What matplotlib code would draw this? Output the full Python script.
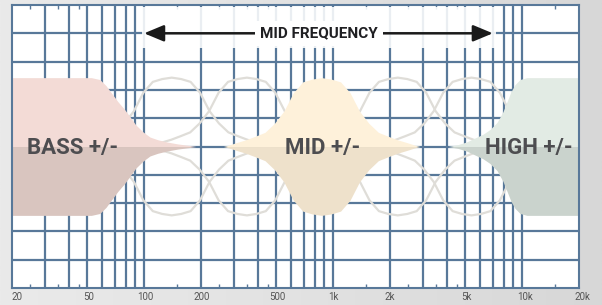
import numpy as np
import matplotlib.pyplot as plt
import matplotlib.ticker as mticker
from matplotlib.colors import LinearSegmentedColormap
from matplotlib.patches import Rectangle, FancyArrowPatch
from matplotlib.transforms import ScaledTranslation

# ---------------------------------------------------------------------------
# Data (frequency in Hz, gain in dB)
# ---------------------------------------------------------------------------
TICK_FREQS = [20, 50, 100, 200, 500, 1000, 2000, 5000, 10000, 20000]
TICK_LABELS = ["20", "50", "100", "200", "500", "1k", "2k", "5k", "10k", "20k"]
GRID_FREQS = [30, 40, 50, 60, 70, 80, 90,
              100, 200, 300, 400, 500, 600, 700, 800, 900,
              1000, 2000, 3000, 4000, 5000, 6000, 7000, 8000, 9000, 10000]
MINOR_TICKS = [25, 35, 45, 150, 250, 350, 450, 1500, 2500, 3500, 4500, 15000]
GRID_GAINS = [-12, -9, -6, -3, 0, 3, 6, 9, 12]

# low shelf outline (upper half, mirrored below)
BASS_FREQ = [20, 52.6, 58.3, 62.9, 67.6, 72.7, 78.7, 84.2, 90.3, 98.7,
             107.5, 118, 132, 151, 175, 188]
BASS_GAIN = [7.3, 7.3, 7.1, 6.45, 5.6, 4.75, 3.95, 3.15, 2.3, 1.55,
             1.0, 0.72, 0.48, 0.27, 0.1, 0.0]

# high shelf outline
HIGH_FREQ = [4055, 4580, 5110, 5700, 6210, 6760, 7365, 7925, 8320, 8730,
             9165, 9750, 10600, 20000]
HIGH_GAIN = [0.0, 0.2, 0.5, 0.95, 1.3, 1.8, 2.55, 3.7, 4.75, 5.8,
             6.55, 7.1, 7.3, 7.3]

# bell profile: offset from centre (decades) -> gain
BELL_OFFSET = [0.0, 0.05, 0.10, 0.15, 0.20, 0.25, 0.30, 0.35, 0.40, 0.45, 0.50, 0.52]
BELL_GAIN = [7.3, 7.15, 6.85, 5.7, 3.75, 2.45, 1.5, 1.1, 0.72, 0.42, 0.1, 0.0]

MID_CENTER = 870
CURVE_CENTERS = [140, 350, 2200, 5400]

BAND_LABELS = ["BASS +/-", "MID +/-", "HIGH +/-"]
BAND_LABEL_FREQS = [42, 885, 10900]

ARROW_FREQS = (100, 7000)
ARROW_GAIN = 12
ARROW_TEXT = "MID FREQUENCY"
ARROW_TEXT_FREQ = 842

# ---------------------------------------------------------------------------
# Style
# ---------------------------------------------------------------------------
GRID_COLOR = "#587899"
CURVE_COLOR = "#dfddd8"
TEXT_COLOR = "#4d4d50"
BASS_COLORS = ("#f3dbd6", "#d9c5bf")
MID_COLORS = ("#fef1da", "#eee1cb")
HIGH_COLORS = ("#e2ebe4", "#cad3cd")

plt.rcParams["font.family"] = ["Roboto", "DejaVu Sans"]


def bell(center):
    off = np.array(BELL_OFFSET)
    g = np.array(BELL_GAIN)
    offs = np.concatenate([-off[::-1], off[1:]])
    gains = np.concatenate([g[::-1], g[1:]])
    return center * 10 ** offs, gains


fig = plt.figure(figsize=(6.02, 3.05), dpi=100)

# soft grey backdrop, lighter on the left
bg = fig.add_axes([0, 0, 1, 1])
bg_cmap = LinearSegmentedColormap.from_list("bg", ["#eaeaea", "#e2e2e2", "#d7d7d7"])
bg.imshow(np.linspace(0, 1, 256)[None, :], cmap=bg_cmap, aspect="auto",
          extent=(0, 1, 0, 1))
bg.axis("off")

ax = fig.add_axes([0.0199, 0.0557, 0.9419, 0.9279])
ax.set_facecolor("white")
ax.set_xscale("log")
ax.set_xlim(20, 20000)
ax.set_ylim(-15, 15)

# grid
for f in GRID_FREQS:
    ax.axvline(f, color=GRID_COLOR, lw=1.6, zorder=1)
for g in GRID_GAINS:
    ax.axhline(g, color=GRID_COLOR, lw=1.6, zorder=1)

# white band response curves (boost and cut)
for c in CURVE_CENTERS:
    fx, gy = bell(c)
    ax.plot(fx, gy, color=CURVE_COLOR, lw=1.6, zorder=2, solid_capstyle="round")
    ax.plot(fx, -gy, color=CURVE_COLOR, lw=1.6, zorder=2, solid_capstyle="round")

# filled bands
bf = np.array(BASS_FREQ)
bg_ = np.array(BASS_GAIN)
ax.fill_between(bf, 0, bg_, color=BASS_COLORS[0], lw=0, zorder=3)
ax.fill_between(bf, -bg_, 0, color=BASS_COLORS[1], lw=0, zorder=3)

mf, mg = bell(MID_CENTER)
ax.fill_between(mf, 0, mg, color=MID_COLORS[0], lw=0, zorder=3)
ax.fill_between(mf, -mg, 0, color=MID_COLORS[1], lw=0, zorder=3)

hf = np.array(HIGH_FREQ)
hg = np.array(HIGH_GAIN)
ax.fill_between(hf, 0, hg, color=HIGH_COLORS[0], lw=0, zorder=3)
ax.fill_between(hf, -hg, 0, color=HIGH_COLORS[1], lw=0, zorder=3)

for label, f in zip(BAND_LABELS, BAND_LABEL_FREQS):
    ax.text(f, -0.2, label, ha="center", va="center", fontsize=16,
            fontweight="bold", color=TEXT_COLOR, zorder=4)

# mid frequency arrow
ax.add_patch(Rectangle((97, 10.4), 7300 - 97, 4.4, facecolor="white",
                       edgecolor="none", alpha=0.88, zorder=5))
arrow = FancyArrowPatch((ARROW_FREQS[0], ARROW_GAIN), (ARROW_FREQS[1], ARROW_GAIN),
                        arrowstyle="<|-|>,head_length=1.2,head_width=0.5",
                        mutation_scale=10, lw=1.8, color="#1a1a1a",
                        shrinkA=0, shrinkB=0, zorder=6)
ax.add_patch(arrow)
ax.text(ARROW_TEXT_FREQ, ARROW_GAIN, ARROW_TEXT, ha="center", va="center",
        fontsize=11, fontweight="bold", color="#1f1f22", zorder=7,
        bbox=dict(boxstyle="square,pad=0.35", fc="white", ec="none"))

# axes decoration
ax.set_xticks(TICK_FREQS)
ax.set_xticklabels(TICK_LABELS)
ax.xaxis.set_minor_locator(mticker.FixedLocator(MINOR_TICKS))
ax.xaxis.set_minor_formatter(mticker.NullFormatter())
ax.tick_params(axis="x", which="major", length=0, pad=3, labelsize=7,
               labelcolor="#555555")
ax.tick_params(axis="x", which="minor", direction="in", length=3, width=1,
               color=GRID_COLOR, top=True, bottom=True)
ax.set_yticks([])
for s in ax.spines.values():
    s.set_color(GRID_COLOR)
    s.set_linewidth(1.5)
    s.set_zorder(8)

# labels sit slightly right of their grid line in the reference
shifts = [5, 1, 1, 1, 1, 0, 0, 1, 3, 3]
for lbl, dx in zip(ax.get_xticklabels(), shifts):
    lbl.set_transform(lbl.get_transform() +
                      ScaledTranslation(dx / 100, 0, fig.dpi_scale_trans))

fig.savefig("out.png", dpi=100)
